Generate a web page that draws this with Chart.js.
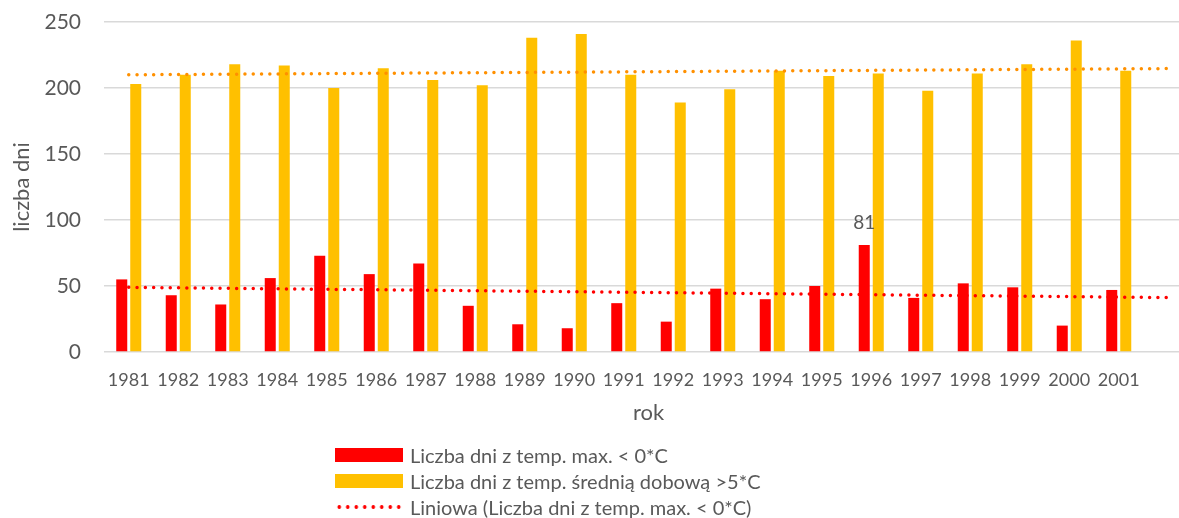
<!DOCTYPE html>
<html>
<head>
<meta charset="utf-8">
<script src="https://cdn.jsdelivr.net/npm/chart.js@4.4.1/dist/chart.umd.min.js"></script>
<style>
  html, body { margin: 0; padding: 0; background: #fff; overflow: hidden; }
  #wrap { position: relative; width: 1193px; height: 518px; }
  #legend { position: absolute; left: 335px; top: 442px; font-family: Lato, sans-serif; font-size: 20px; color: #595959; }
  .item { display: flex; align-items: center; height: 26px; white-space: nowrap; }
  .swatch { width: 68px; height: 14px; margin-right: 7px; flex: none; }
</style>
</head>
<body>
<div id="wrap">
  <canvas id="chart" width="1193" height="518"></canvas>
  <div id="legend"></div>
</div>
<script>
const years = ["1981", "1982", "1983", "1984", "1985", "1986", "1987", "1988", "1989", "1990", "1991",
               "1992", "1993", "1994", "1995", "1996", "1997", "1998", "1999", "2000", "2001"];
const frostDays = [55, 43, 36, 56, 73, 59, 67, 35, 21, 18, 37, 23, 48, 40, 50, 81, 41, 52, 49, 20, 47];
const warmDays = [203, 210, 218, 217, 200, 215, 206, 202, 238, 241, 210, 189, 199, 213, 209, 211, 198, 211, 218, 236, 213];
// linear trend ends: first year and one period forward
const frostTrend = [49.0, 41.2];
const warmTrend = [210.0, 214.7];
const yTicks = [0, 50, 100, 150, 200, 250];
const labelledYears = ["1996"];

const labels = [...years, ""];
const grey = "#595959";

function trendSeries(ends) {
  const arr = labels.map(() => null);
  arr[0] = ends[0];
  arr[arr.length - 1] = ends[1];
  return arr;
}

// value label above chosen bars
const valueLabel = {
  id: "valueLabel",
  afterDatasetsDraw(chart) {
    const meta = chart.getDatasetMeta(0);
    const ctx = chart.ctx;
    ctx.save();
    ctx.font = "19px Lato";
    ctx.fillStyle = grey;
    ctx.textAlign = "center";
    ctx.textBaseline = "bottom";
    labelledYears.forEach(yr => {
      const i = years.indexOf(yr);
      const bar = meta.data[i];
      ctx.fillText(String(frostDays[i]), bar.x, bar.y - 13);
    });
    ctx.restore();
  }
};

const chart = new Chart(document.getElementById("chart"), {
  type: "bar",
  data: {
    labels: labels,
    datasets: [
      {
        label: "Liczba dni z temp. max. < 0*C",
        data: frostDays,
        backgroundColor: "#ff0000",
        categoryPercentage: 0.566,
        barPercentage: 0.786,
        order: 2
      },
      {
        label: "Liczba dni z temp. średnią dobową >5*C",
        data: warmDays,
        backgroundColor: "#ffc000",
        categoryPercentage: 0.566,
        barPercentage: 0.786,
        order: 2
      },
      {
        type: "line",
        label: "Liniowa (Liczba dni z temp. max. < 0*C)",
        data: trendSeries(frostTrend),
        borderColor: "#ff0000",
        borderWidth: 3.5,
        borderDash: [0, 8.3],
        borderCapStyle: "round",
        spanGaps: true,
        pointRadius: 0,
        order: 1
      },
      {
        type: "line",
        label: "Liniowa (Liczba dni z temp. średnią dobową >5*C)",
        inLegend: false,
        data: trendSeries(warmTrend),
        borderColor: "#ff9000",
        borderWidth: 3.5,
        borderDash: [0, 8.3],
        borderCapStyle: "round",
        spanGaps: true,
        pointRadius: 0,
        order: 1
      }
    ]
  },
  options: {
    responsive: false,
    animation: false,
    devicePixelRatio: 1,
    layout: { padding: { top: 22, right: 0, bottom: 86, left: 0 } },
    plugins: {
      legend: { display: false },
      tooltip: { enabled: false }
    },
    scales: {
      x: {
        grid: { display: false },
        border: { display: false },
        ticks: { color: grey, font: { family: "Lato", size: 18 }, padding: 9, maxRotation: 0, autoSkip: false },
        title: { display: true, text: "rok", color: grey, font: { family: "Lato", size: 22 }, padding: { top: 0, bottom: 6 } },
        afterFit: s => { s.height = 80; }
      },
      y: {
        min: yTicks[0],
        max: yTicks[yTicks.length - 1],
        grid: { color: "#d9d9d9", lineWidth: 1.5, drawTicks: false },
        border: { display: false },
        ticks: { stepSize: yTicks[1] - yTicks[0], color: grey, font: { family: "Lato", size: 21 }, padding: 23 },
        title: { display: true, text: "liczba dni", color: grey, font: { family: "Lato", size: 22 }, padding: { top: 9, bottom: 0 } },
        afterFit: s => { s.width = 104; s.paddingTop = 0; s.paddingBottom = 0; }
      }
    }
  },
  plugins: [valueLabel]
});

// legend in the list layout of the original
const legend = document.getElementById("legend");
chart.data.datasets.forEach(ds => {
  if (ds.inLegend === false) return;
  const item = document.createElement("div");
  item.className = "item";
  const sw = document.createElement("span");
  sw.className = "swatch";
  if (ds.type === "line") {
    sw.style.background = "radial-gradient(circle, " + ds.borderColor + " 1.6px, transparent 2.1px) 0 50% / 8.5px 14px repeat-x";
  } else {
    sw.style.background = ds.backgroundColor;
  }
  const txt = document.createElement("span");
  txt.textContent = ds.label;
  item.appendChild(sw);
  item.appendChild(txt);
  legend.appendChild(item);
});
</script>
</body>
</html>
